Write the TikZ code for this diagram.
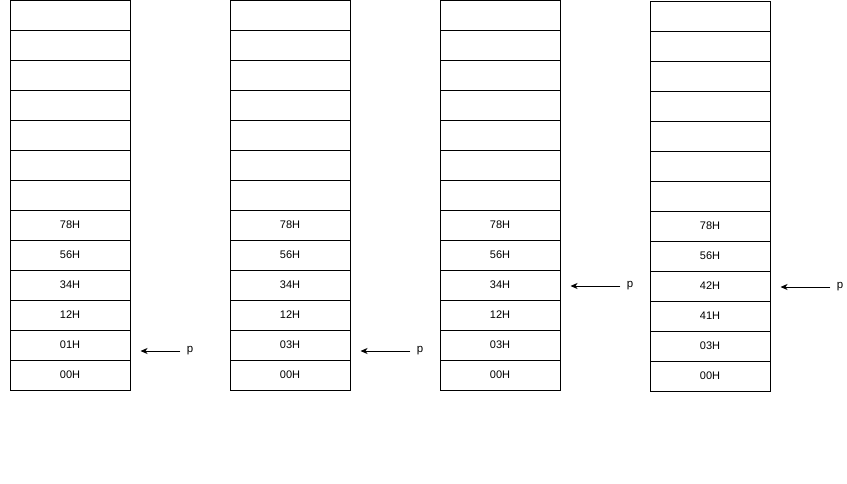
\documentclass[tikz,border=0pt]{standalone}
\usepackage{fontspec}
\setmainfont{Liberation Sans}
\usetikzlibrary{arrows.meta,positioning}

\begin{document}
\begin{tikzpicture}[
  x=1pt, y=-1pt,
  >={Stealth[length=7pt,width=6pt,inset=2pt]},
  cell/.style={draw, line width=1pt, minimum width=120pt, minimum height=30pt, inner sep=0pt, font=\fontsize{11}{13}\selectfont},
  ptr/.style={inner sep=1pt, font=\fontsize{11.5}{13}\selectfont},
  every path/.style={line width=1pt}
]
\useasboundingbox (0,0) rectangle (847,483);
% four snapshots of the memory, cells numbered from the top
\foreach \col/\x/\y/\vals in {1/70/15/{78H,56H,34H,12H,01H,00H},
                              2/290/15/{78H,56H,34H,12H,03H,00H},
                              3/500/15/{78H,56H,34H,12H,03H,00H},
                              4/710/16/{78H,56H,42H,41H,03H,00H}}{
  \foreach \i in {1,...,7}
    \node[cell] (c\col-\i) at (\x,{\y+30*(\i-1)}) {};
  \foreach \v [count=\i from 8] in \vals
    \node[cell] (c\col-\i) at (\x,{\y+30*(\i-1)}) {\v};
}
% pointer p
\node[ptr] (p1) at (190,351) {p};
\node[ptr] (p2) at (420,351) {p};
\node[ptr] (p3) at (630,286) {p};
\node[ptr] (p4) at (840,287) {p};
\draw[->, shorten <=5pt, shorten >=10pt] (p1.west) -- (p1.west -| c1-12.east);
\draw[->, shorten <=5pt, shorten >=10pt] (p2.west) -- (p2.west -| c2-12.east);
\draw[->, shorten <=5pt, shorten >=10pt] (p3.west) -- (p3.west -| c3-10.east);
\draw[->, shorten <=5pt, shorten >=10pt] (p4.west) -- (p4.west -| c4-10.east);
\end{tikzpicture}
\end{document}
